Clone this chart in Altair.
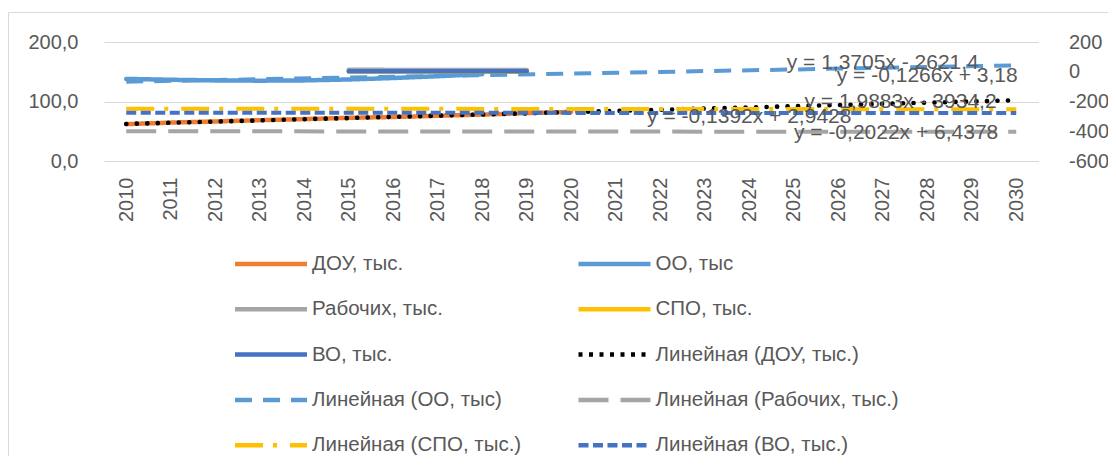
import altair as alt
import pandas as pd

FONT = "Liberation Sans"
TXT = "#595959"
GRID = "#D9D9D9"

# ---------------- data ----------------
years_all = list(range(2010, 2031))

dou_years = list(range(2010, 2021))
dou_vals = [62, 64.5, 66.5, 68.5, 70.5, 72.5, 74, 76, 78, 80.5, 82.5]

oo_years = list(range(2010, 2019))
oo_vals = [138, 136.5, 135.5, 135, 135.5, 137, 139.5, 142.5, 146]

small_years = list(range(2015, 2020))
rab_vals = [13, 12.5, 12.5, 12, 12]
spo_vals = [2.5, 2.5, 2, 2, 2]
vo_vals = [4, 3.5, 3.5, 3, 3]

trend_years = [2010, 2030]
dou_trend = [62.3, 102]
oo_trend = [133.3, 160.7]
rab_trend = [-400, -404]
spo_trend = [-248, -252]
vo_trend = [-275, -278]

eq_texts = ["y = 1,3705x - 2621,4", "y = -0,1266x + 3,18", "y = 1,9883x - 3934,2",
            "y = -0,1392x + 2,9428", "y = -0,2022x + 6,4378"]
eq_year = [2027.0, 2028.0, 2027.4, 2024.0, 2027.3]
eq_value = [59, -29, -200, -304, -412]

names = ["ДОУ, тыс.", "ОО, тыс", "Рабочих, тыс.", "СПО, тыс.", "ВО, тыс.",
         "Линейная (ДОУ, тыс.)", "Линейная (ОО, тыс)", "Линейная (Рабочих, тыс.)",
         "Линейная (СПО, тыс.)", "Линейная (ВО, тыс.)"]
colors = ["#ED7D31", "#5B9BD5", "#A5A5A5", "#FFC000", "#4472C4",
          "#000000", "#5B9BD5", "#A5A5A5", "#FFC000", "#4472C4"]
dashes = [[1, 0], [1, 0], [1, 0], [1, 0], [1, 0],
          [4, 6.5], [17, 11], [30, 12], [28, 10, 4, 13], [10, 4.5]]


def frame(items):
    rows = []
    for name, ys, vs in items:
        for y, v in zip(ys, vs):
            rows.append({"series": name, "year": y, "value": v})
    return pd.DataFrame(rows)


left_solid_df = frame([(names[0], dou_years, dou_vals), (names[1], oo_years, oo_vals)])
dou_trend_df = frame([(names[5], trend_years, dou_trend)])
oo_trend_df = frame([(names[6], trend_years, oo_trend)])
right_solid_df = frame([(names[2], small_years, rab_vals), (names[3], small_years, spo_vals),
                        (names[4], small_years, vo_vals)])
right_trend_df = frame([(names[7], trend_years, rab_trend), (names[8], trend_years, spo_trend),
                        (names[9], trend_years, vo_trend)])
eq_df = pd.DataFrame({"label": eq_texts, "year": eq_year, "ty": eq_value})

# ---------------- encodings ----------------
legend = alt.Legend(
    orient="none", legendX=152.5, legendY=207.5, columns=2, direction="horizontal",
    title=None, padding=0,
    symbolType="M-3,0H3", symbolSize=576, symbolStrokeWidth=4.5,
    labelFont=FONT, labelFontSize=20.5, labelColor=TXT, labelOffset=26.5, labelLimit=500,
    columnPadding=47.5, rowPadding=20.3,
)
color = alt.Color("series:N", scale=alt.Scale(domain=names, range=colors), legend=legend)
dash = alt.StrokeDash("series:N", scale=alt.Scale(domain=names, range=dashes), legend=legend)

x_enc = alt.X(
    "year:Q",
    scale=alt.Scale(domain=[2009.5, 2030.5], nice=False, zero=False),
    axis=alt.Axis(values=years_all, format="d", labelAngle=270, labelFlush=False, labelOverlap=False,
                  ticks=False, domain=False, grid=False, labelPadding=16, labelFont=FONT,
                  labelFontSize=20, labelColor=TXT, title=None),
)

left_axis = alt.Axis(values=[0, 100, 200], labelExpr="replace(format(datum.value, '.1f'), '.', ',')",
                     grid=True, gridColor=GRID, gridWidth=1, domain=False, ticks=False,
                     labelPadding=26, labelFont=FONT, labelFontSize=20, labelColor=TXT,
                     labelFlush=False, title=None)
right_axis = alt.Axis(orient="right", values=[-600, -400, -200, 0, 200], labelExpr="'' + datum.value",
                      grid=False, domain=False, ticks=False, labelPadding=30, labelAlign="left",
                      labelFont=FONT, labelFontSize=20, labelColor=TXT, labelFlush=False, title=None)

y_left = alt.Y("value:Q", scale=alt.Scale(domain=[0, 200], nice=False, zero=False), axis=left_axis)
y_right = alt.Y("value:Q", scale=alt.Scale(domain=[-600, 200], nice=False, zero=False), axis=right_axis)

border = alt.Chart(alt.Data(values=[{"a": 1}])).mark_rect(
    filled=False, stroke=GRID, strokeWidth=1
).encode(x=alt.value(-95.5), x2=alt.value(1300), y=alt.value(-29.5), y2=alt.value(700))

left_solid = alt.Chart(left_solid_df).mark_line(strokeWidth=4.5, strokeCap="round", strokeJoin="round").encode(
    x=x_enc, y=y_left, color=color, strokeDash=dash)
# round dots in the plot for the ДОУ trend (legend keeps the scale's dash)
dou_trend_line = alt.Chart(dou_trend_df).mark_line(strokeWidth=4.6, strokeCap="round").encode(
    x=x_enc, y=y_left, color=color, strokeDash=alt.value([0.1, 10.4]))
oo_trend_line = alt.Chart(oo_trend_df).mark_line(strokeWidth=4).encode(
    x=x_enc, y=y_left, color=color, strokeDash=dash)

right_solid = alt.Chart(right_solid_df).mark_line(strokeWidth=4.5, strokeCap="round", strokeJoin="round").encode(
    x=x_enc, y=y_right, color=color, strokeDash=dash)
right_trend = alt.Chart(right_trend_df).mark_line(strokeWidth=4).encode(
    x=x_enc, y=y_right, color=color, strokeDash=dash)
eq_text = alt.Chart(eq_df).mark_text(font=FONT, fontSize=21, color=TXT, align="center", baseline="middle").encode(
    x=x_enc,
    y=alt.Y("ty:Q", scale=alt.Scale(domain=[-600, 200], nice=False, zero=False), axis=right_axis),
    text="label:N",
)

left = alt.layer(border, left_solid, dou_trend_line, oo_trend_line)
right = alt.layer(right_solid, right_trend, eq_text)

chart = alt.layer(left, right).resolve_scale(y="independent").properties(
    width=934.5, height=119,
    padding={"left": 96, "top": 34, "right": 69.5, "bottom": 295},
    autosize=alt.AutoSizeParams(type="none"),
    background="white",
).configure_view(stroke=None)

chart.save("out.html", embed_options={"renderer": "svg", "actions": False})
